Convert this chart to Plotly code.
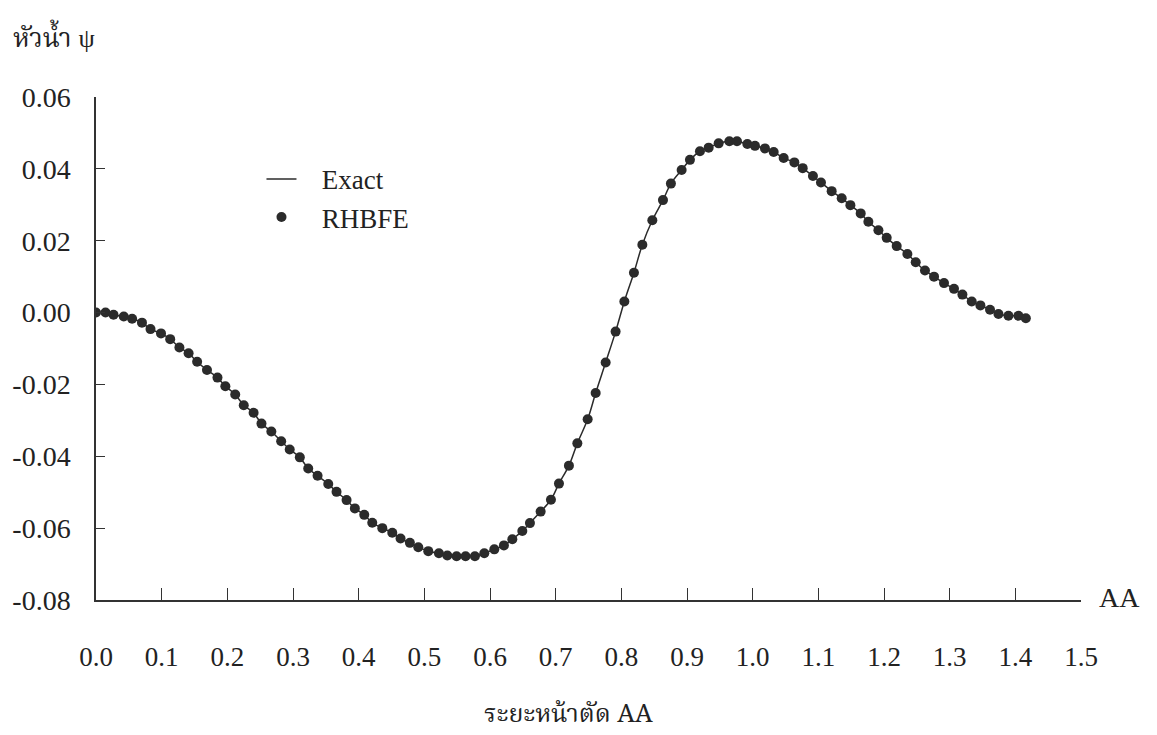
import plotly.graph_objects as go

# Values
x_vals = [0.0, 0.0145, 0.0267, 0.0423, 0.055, 0.070, 0.083, 0.099, 0.113, 0.127,
          0.141, 0.154, 0.169, 0.185, 0.197, 0.212, 0.225, 0.240, 0.252, 0.267,
          0.282, 0.295,
          0.3104, 0.3232, 0.3374, 0.3537, 0.3663, 0.3816, 0.3942, 0.4085, 0.4207, 0.4360,
          0.4512, 0.4638, 0.4780, 0.4908, 0.5060, 0.5222, 0.5350, 0.5491, 0.5628, 0.5770,
          0.5913, 0.6066, 0.6212, 0.6340, 0.6492, 0.6608, 0.6771, 0.6928, 0.7050, 0.7202,
          0.7330, 0.7487, 0.7609, 0.7761, 0.7913, 0.8046,
          0.8192, 0.8320, 0.8472, 0.8634, 0.8755, 0.8918, 0.9045, 0.9197, 0.9330, 0.9482,
          0.9645, 0.9761, 0.9919, 1.0035, 1.0187, 1.0320, 1.0472, 1.0635, 1.0762, 1.0918,
          1.1040, 1.1203, 1.1356, 1.1488, 1.1645, 1.1762, 1.1915,
          1.2041, 1.2193, 1.2356, 1.2483, 1.2624, 1.2762, 1.2914, 1.3066, 1.3194, 1.3336,
          1.3468, 1.3615, 1.3743, 1.3895, 1.4047, 1.4160]

rhbfe_y = [0.0, 0.0, -0.0006, -0.0011, -0.0017, -0.0028, -0.0046, -0.0058, -0.0074, -0.0097,
           -0.0113, -0.0137, -0.0160, -0.0181, -0.0205, -0.0228, -0.0258, -0.0279, -0.0309, -0.0331,
           -0.0358, -0.0381,
           -0.0403, -0.0434, -0.0454, -0.0477, -0.0499, -0.0522, -0.0545, -0.0563, -0.0585, -0.0600,
           -0.0613, -0.0629, -0.0641, -0.0653, -0.0664, -0.0670, -0.0676, -0.0678, -0.0678, -0.0678,
           -0.0670, -0.0659, -0.0648, -0.0631, -0.0608, -0.0586, -0.0554, -0.0521, -0.0476, -0.0426,
           -0.0364, -0.0297, -0.0224, -0.0139, -0.0053, 0.0031,
           0.0111, 0.0189, 0.0257, 0.0313, 0.0359, 0.0397, 0.0425, 0.0449, 0.0459, 0.0471,
           0.0477, 0.0477, 0.0469, 0.0464, 0.0457, 0.0447, 0.0430, 0.0418, 0.0402, 0.0380,
           0.0362, 0.0338, 0.0318, 0.0299, 0.0276, 0.0253, 0.0229,
           0.0208, 0.0185, 0.0163, 0.0140, 0.0117, 0.0100, 0.0082, 0.0066, 0.0050, 0.0031,
           0.0020, 0.0008, -0.0004, -0.0009, -0.0009, -0.0016]

exact_y = list(rhbfe_y)

x_ticks = [0.0, 0.1, 0.2, 0.3, 0.4, 0.5, 0.6, 0.7, 0.8, 0.9, 1.0, 1.1, 1.2, 1.3, 1.4, 1.5]
x_tick_labels = ["0.0", "0.1", "0.2", "0.3", "0.4", "0.5", "0.6", "0.7", "0.8", "0.9",
                 "1.0", "1.1", "1.2", "1.3", "1.4", "1.5"]
y_ticks = [-0.08, -0.06, -0.04, -0.02, 0.0, 0.02, 0.04, 0.06]
y_tick_labels = ["-0.08", "-0.06", "-0.04", "-0.02", "0.00", "0.02", "0.04", "0.06"]

SERIF = "Liberation Serif"
THAI = "Noto Serif Thai, Noto Sans Thai, Liberation Serif, serif"
INK = "#2b2b2b"
TXT = "#222222"
NB = "\u00a0\u00a0\u00a0"

fig = go.Figure()
fig.add_trace(go.Scatter(
    x=x_vals, y=exact_y, mode="lines", name=NB + "Exact",
    line=dict(color=INK, width=1.5, shape="spline"),
))
fig.add_trace(go.Scatter(
    x=x_vals, y=rhbfe_y, mode="markers", name=NB + "RHBFE",
    marker=dict(color=INK, size=10),
))

fig.update_layout(
    width=1157, height=735,
    margin=dict(l=94, r=76, t=97, b=135),
    paper_bgcolor="white", plot_bgcolor="white",
    font=dict(family=SERIF, size=24, color=TXT),
    showlegend=True,
    legend=dict(x=0.168, y=0.885, xanchor="left", yanchor="top",
                bgcolor="rgba(0,0,0,0)", font=dict(family=SERIF, size=27, color=TXT),
                itemwidth=30, tracegroupgap=2),
    xaxis=dict(range=[0, 1.5], tickvals=x_ticks, ticktext=x_tick_labels,
               showgrid=False, zeroline=False, showline=True, linecolor="#333", linewidth=1.5,
               ticks="inside", ticklen=12, tickwidth=1.2, tickcolor="#333",
               ticklabelstandoff=32, tickfont=dict(family=SERIF, size=27, color=TXT)),
    yaxis=dict(range=[-0.08, 0.06], tickvals=y_ticks, ticktext=y_tick_labels,
               showgrid=False, zeroline=False, showline=True, linecolor="#333", linewidth=1.5,
               ticks="inside", ticklen=9, tickwidth=1.2, tickcolor="#333",
               ticklabelstandoff=18, tickfont=dict(family=SERIF, size=28, color=TXT)),
    annotations=[
        dict(text="หัวน้ำ ψ", xref="paper", yref="paper", x=-0.085, y=1.113,
             xanchor="left", yanchor="middle", showarrow=False, borderpad=0,
             font=dict(family=THAI, size=26, color=TXT)),
        dict(text="AA", xref="paper", yref="paper", x=1.017, y=0.004,
             xanchor="left", yanchor="middle", showarrow=False, borderpad=0,
             font=dict(family=SERIF, size=28, color=TXT)),
        dict(text="ระยะหน้าตัด AA", xref="paper", yref="paper", x=0.48, y=-0.229,
             xanchor="center", yanchor="middle", showarrow=False, borderpad=0,
             font=dict(family=THAI, size=25, color=TXT)),
    ],
)

fig.write_html("out.html", config={"displayModeBar": False},
               post_script="document.body.style.margin='0';")
